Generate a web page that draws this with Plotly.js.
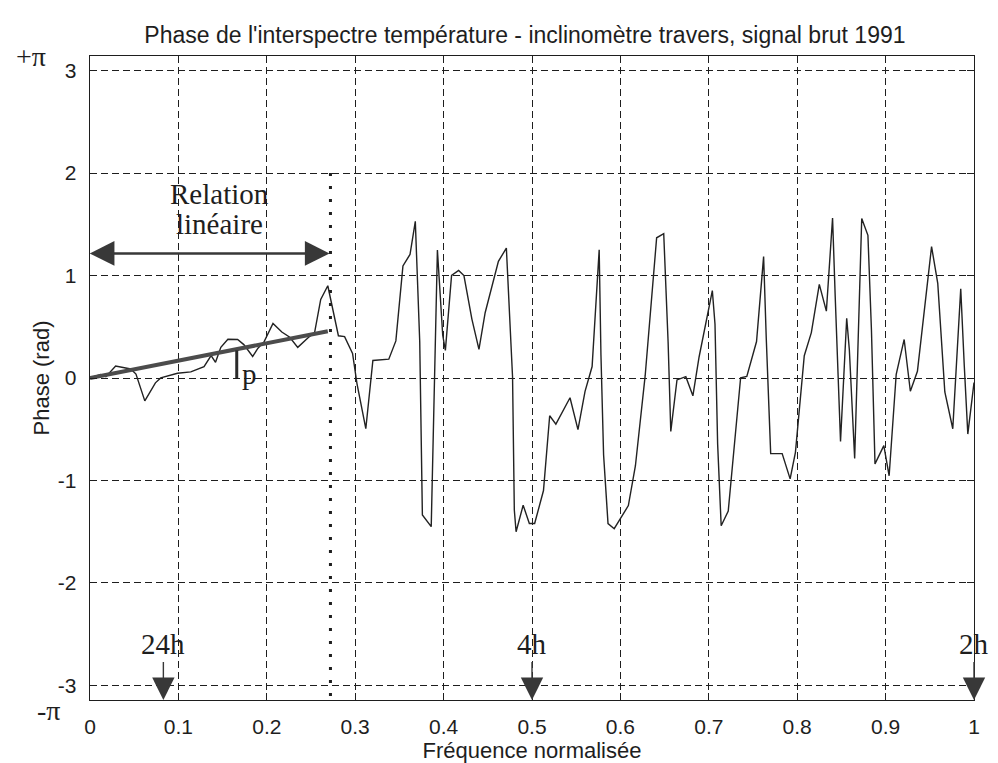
<!DOCTYPE html>
<html>
<head>
<meta charset="utf-8">
<script src="https://cdn.plot.ly/plotly-3.0.1.min.js"></script>
<style>html,body{margin:0;padding:0;background:#fff;}#chart{width:998px;height:763px;}</style>
</head>
<body>
<div id="chart"></div>
<script>
// Normalised frequency (x) and cross-spectrum phase in rad (y)
const freq = [0, 0.012, 0.018, 0.025, 0.029, 0.046, 0.052, 0.062, 0.074, 0.080, 0.099, 0.114, 0.129, 0.137, 0.142, 0.148, 0.156, 0.167, 0.174, 0.184, 0.190, 0.197, 0.207, 0.217, 0.226, 0.235, 0.247, 0.254, 0.261, 0.269,
  0.281, 0.288, 0.297, 0.302, 0.312, 0.320, 0.338, 0.346, 0.354, 0.362, 0.368, 0.373, 0.376, 0.386, 0.393, 0.399, 0.402, 0.409, 0.417, 0.423, 0.432, 0.440, 0.447, 0.462, 0.471, 0.478, 0.480, 0.482, 0.490, 0.497, 0.503, 0.513, 0.520, 0.527, 0.543, 0.552,
  0.560, 0.568, 0.576, 0.578, 0.581, 0.586, 0.593, 0.609, 0.617, 0.628, 0.641, 0.649, 0.654, 0.657, 0.664, 0.674, 0.682, 0.689, 0.704, 0.707, 0.710, 0.714, 0.722, 0.736, 0.743, 0.754, 0.762, 0.765, 0.770, 0.783,
  0.792, 0.798, 0.808, 0.816, 0.825, 0.833, 0.840, 0.843, 0.847, 0.849, 0.856, 0.859, 0.865, 0.873, 0.880, 0.884, 0.888, 0.898, 0.904, 0.912, 0.921, 0.928, 0.936, 0.952, 0.959, 0.967, 0.976, 0.985, 0.989, 0.993, 1.0];
const phase = [0, 0.035, 0.012, 0.076, 0.117, 0.088, 0.038, -0.223, -0.047, 0.001, 0.046, 0.06, 0.11, 0.219, 0.153, 0.299, 0.378, 0.376, 0.326, 0.21, 0.291, 0.355, 0.532, 0.449, 0.398, 0.299, 0.395, 0.44, 0.767, 0.90,
  0.412, 0.404, 0.24, -0.054, -0.495, 0.171, 0.184, 0.362, 1.093, 1.205, 1.529, 0.357, -1.336, -1.45, 1.248, 0.417, 0.27, 1.001, 1.049, 0.999, 0.575, 0.28, 0.637, 1.138, 1.268, 0.013, -1.288, -1.5, -1.241, -1.42, -1.42, -1.098, -0.368, -0.45, -0.193, -0.503,
  -0.131, 0.112, 1.25, 0.224, -0.752, -1.42, -1.47, -1.245, -0.856, 0.02, 1.368, 1.409, 0.341, -0.521, -0.019, 0.013, -0.174, 0.205, 0.853, 0.527, -0.645, -1.442, -1.297, 0.002, 0.016, 0.356, 1.184, 0.387, -0.736, -0.738,
  -0.984, -0.725, 0.217, 0.443, 0.914, 0.652, 1.561, 0.796, -0.083, -0.62, 0.583, 0.273, -0.786, 1.556, 1.392, 0.464, -0.838, -0.66, -0.954, 0.036, 0.376, -0.129, 0.065, 1.282, 0.923, -0.136, -0.495, 0.87, 0.12, -0.547, -0.044];

// Linear-relation fit segment
const fitFreq = [0, 0.269];
const fitPhase = [0, 0.456];
// Limit of the linear relation
const linearLimit = 0.272;
// Marked periods
const periodLabels = ['24h', '4h', '2h'];
const periodFreq = [0.083, 0.5, 1.0];

// Ticks
const xTicks = [0, 0.1, 0.2, 0.3, 0.4, 0.5, 0.6, 0.7, 0.8, 0.9, 1];
const xTickText = ['0', '0.1', '0.2', '0.3', '0.4', '0.5', '0.6', '0.7', '0.8', '0.9', '1'];
const yTicks = [-3, -2, -1, 0, 1, 2, 3];
const yTickText = ['-3', '-2', '-1', '0', '1', '2', '3'];

const INK = '#1e1e1e';
const SANS = 'Liberation Sans, Arial, sans-serif';
const SERIF = 'Liberation Serif, Times New Roman, serif';

const traces = [
  {x: freq, y: phase, mode: 'lines', line: {color: '#222222', width: 1.4}, hoverinfo: 'skip'},
  {x: fitFreq, y: fitPhase, mode: 'lines', line: {color: '#4c4c4c', width: 4}, hoverinfo: 'skip'}
];

const annotations = [
  {xref: 'x', yref: 'y', x: linearLimit - 0.001, y: 1.215, axref: 'x', ayref: 'y', ax: -0.002, ay: 1.215,
   text: '', showarrow: true, arrowside: 'end+start', arrowhead: 2, startarrowhead: 2,
   arrowsize: 1.9, startarrowsize: 1.9, arrowwidth: 2.6, arrowcolor: '#383838'},
  {xref: 'x', yref: 'y', x: 0.147, y: 1.80, text: 'Relation', showarrow: false, font: {family: SERIF, size: 29, color: INK}},
  {xref: 'x', yref: 'y', x: 0.147, y: 1.50, text: 'linéaire', showarrow: false, font: {family: SERIF, size: 29, color: INK}},
  {xref: 'x', yref: 'y', x: 0.180, y: 0.04, text: 'p', showarrow: false, font: {family: SERIF, size: 29, color: INK}},
  {xref: 'paper', yref: 'y', x: -0.0667, xanchor: 'center', y: Math.PI, text: '+π', showarrow: false, font: {family: SERIF, size: 28, color: INK}},
  {xref: 'paper', yref: 'y', x: -0.0475, xanchor: 'center', y: -Math.PI, yshift: -10, text: '-π', showarrow: false, font: {family: SERIF, size: 28, color: INK}}
];
periodLabels.forEach((lab, i) => {
  annotations.push({xref: 'x', yref: 'y', x: periodFreq[i], y: -Math.PI, axref: 'x', ayref: 'y', ax: periodFreq[i], ay: -2.6,
    text: lab, showarrow: true, arrowhead: 2, arrowsize: 3.2, arrowwidth: 1.4, arrowcolor: '#383838',
    font: {family: SERIF, size: 29, color: INK}});
});

const shapes = [
  {type: 'line', xref: 'x', yref: 'y', x0: linearLimit, x1: linearLimit, y0: 2, y1: -Math.PI,
   line: {color: INK, width: 3, dash: '3px,10px'}},
  {type: 'line', xref: 'x', yref: 'y', x0: 0.166, x1: 0.166, y0: 0.27, y1: 0.0,
   line: {color: '#2a2a2a', width: 3}}
];

const axisCommon = {
  showline: true, linecolor: INK, linewidth: 1.3, mirror: 'ticks',
  ticks: 'inside', ticklen: 7, tickcolor: INK, tickwidth: 1,
  showgrid: true, gridcolor: INK, gridwidth: 1, griddash: '7px,4px',
  zeroline: false, tickfont: {family: SANS, size: 21, color: INK}
};

const layout = {
  width: 998, height: 763,
  margin: {l: 90, r: 24, t: 56, b: 63},
  paper_bgcolor: '#ffffff', plot_bgcolor: '#ffffff',
  showlegend: false,
  font: {family: SANS, color: INK, size: 21},
  title: {text: "Phase de l'interspectre température - inclinomètre travers, signal brut 1991",
    font: {family: SANS, size: 23, color: INK}, xref: 'container', x: 0.526, xanchor: 'center',
    yref: 'container', y: 1 - 35 / 763, yanchor: 'middle'},
  xaxis: Object.assign({}, axisCommon, {range: [0, 1], tickvals: xTicks, ticktext: xTickText, ticklabelstandoff: 7,
    title: {text: 'Fréquence normalisée', font: {family: SANS, size: 22, color: INK}, standoff: 2}}),
  yaxis: Object.assign({}, axisCommon, {range: [-Math.PI, Math.PI], tickvals: yTicks, ticktext: yTickText, ticklabelstandoff: 8,
    title: {text: 'Phase (rad)', font: {family: SANS, size: 22, color: INK}, standoff: 2}}),
  annotations: annotations,
  shapes: shapes
};

Plotly.newPlot('chart', traces, layout, {staticPlot: true, displayModeBar: false});
</script>
</body>
</html>
